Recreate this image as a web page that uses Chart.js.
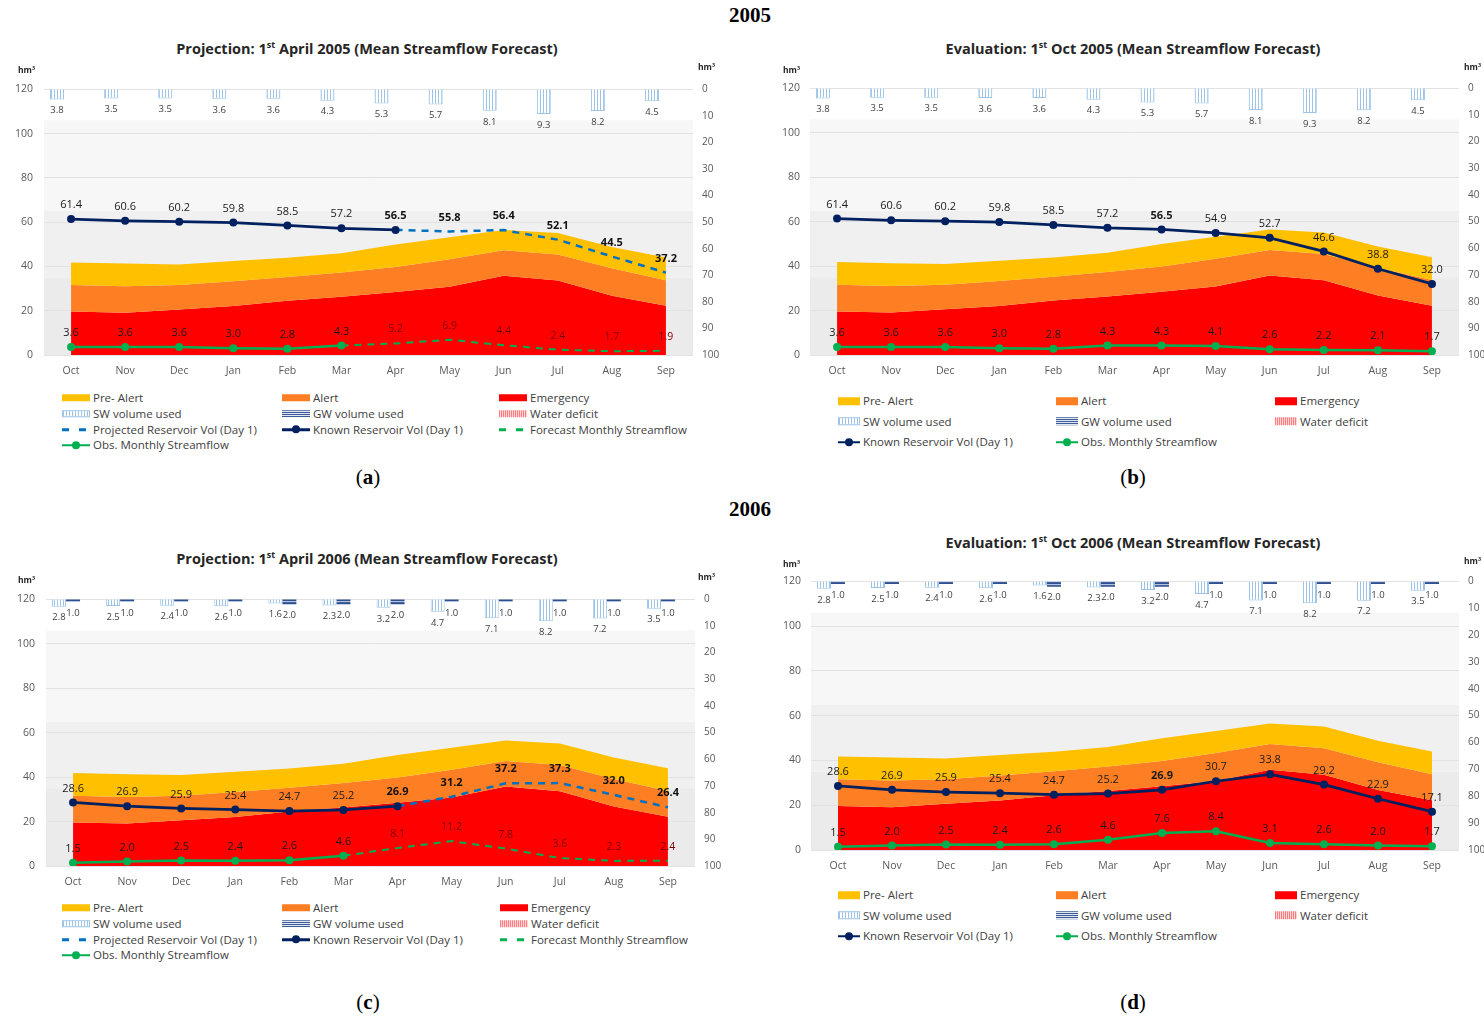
<!DOCTYPE html>
<html>
<head>
<meta charset="utf-8">
<script src="https://cdn.jsdelivr.net/npm/chart.js@4.4.1/dist/chart.umd.min.js"></script>
<style>
  body { margin: 0; background: #fff; width: 1484px; height: 1020px; position: relative; overflow: hidden;
         font-family: "Open Sans", sans-serif; }
  .abs { position: absolute; line-height: 1; white-space: nowrap; }
  .year { font-family: "Liberation Serif", serif; font-weight: bold; font-size: 21px; transform: translateX(-50%); }
  .title { font-weight: bold; font-size: 14.5px; color: #262626; transform: translateX(-50%); }
  .title sup { font-size: 9px; vertical-align: 6px; line-height: 0; }
  .hm { font-weight: bold; font-size: 8.5px; color: #262626; }
  .sub { font-family: "Liberation Serif", serif; font-size: 21px; transform: translateX(-50%); }
  .leg { font-size: 11.5px; color: #404040; display: flex; align-items: center; transform: translateY(-50%); }
  .sym { position: relative; margin-right: 3px; flex: none; }
  canvas { position: absolute; }
</style>
</head>
<body>
<script>
// reservoir projection / evaluation panels (Chart.js)
const FONT = '"Open Sans", sans-serif';

const months = ['Oct', 'Nov', 'Dec', 'Jan', 'Feb', 'Mar', 'Apr', 'May', 'Jun', 'Jul', 'Aug', 'Sep'];

// drought thresholds (hm3), same for every panel
const emergencyTop = [19.6, 19.1, 20.6, 22.1, 24.5, 26.3, 28.5, 30.8, 35.8, 33.6, 26.8, 22.2];
const alertTop     = [31.6, 31.0, 31.6, 33.3, 35.2, 37.3, 39.8, 43.3, 47.3, 45.4, 39.2, 33.8];
const preAlertTop  = [41.8, 41.3, 40.9, 42.4, 43.9, 46.0, 49.9, 53.2, 56.5, 55.1, 48.8, 44.0];
const noDeficit    = [0, 0, 0, 0, 0, 0, 0, 0, 0, 0, 0, 0];

// 2005
const sw2005 = [3.8, 3.5, 3.5, 3.6, 3.6, 4.3, 5.3, 5.7, 8.1, 9.3, 8.2, 4.5];
const gw2005 = [0, 0, 0, 0, 0, 0, 0, 0, 0, 0, 0, 0];
const knownA = [61.4, 60.6, 60.2, 59.8, 58.5, 57.2, 56.5, null, null, null, null, null];
const projectedA = [null, null, null, null, null, null, 56.5, 55.8, 56.4, 52.1, 44.5, 37.2];
const obsA = [3.6, 3.6, 3.6, 3.0, 2.8, 4.3, null, null, null, null, null, null];
const forecastA = [null, null, null, null, null, 4.3, 5.2, 6.9, 4.4, 2.4, 1.7, 1.9];
const knownB = [61.4, 60.6, 60.2, 59.8, 58.5, 57.2, 56.5, 54.9, 52.7, 46.6, 38.8, 32.0];
const obsB = [3.6, 3.6, 3.6, 3.0, 2.8, 4.3, 4.3, 4.1, 2.6, 2.2, 2.1, 1.7];

// 2006
const sw2006 = [2.8, 2.5, 2.4, 2.6, 1.6, 2.3, 3.2, 4.7, 7.1, 8.2, 7.2, 3.5];
const gw2006 = [1.0, 1.0, 1.0, 1.0, 2.0, 2.0, 2.0, 1.0, 1.0, 1.0, 1.0, 1.0];
const knownC = [28.6, 26.9, 25.9, 25.4, 24.7, 25.2, 26.9, null, null, null, null, null];
const projectedC = [null, null, null, null, null, null, 26.9, 31.2, 37.2, 37.3, 32.0, 26.4];
const obsC = [1.5, 2.0, 2.5, 2.4, 2.6, 4.6, null, null, null, null, null, null];
const forecastC = [null, null, null, null, null, 4.6, 8.1, 11.2, 7.8, 3.6, 2.3, 2.4];
const knownD = [28.6, 26.9, 25.9, 25.4, 24.7, 25.2, 26.9, 30.7, 33.8, 29.2, 22.9, 17.1];
const obsD = [1.5, 2.0, 2.5, 2.4, 2.6, 4.6, 7.6, 8.4, 3.1, 2.6, 2.0, 1.7];

// light grey background bands behind the plot [from, to, colour]
const bgBands = [[0, 35, '#ebebeb'], [35, 65, '#f0f0f0'], [65, 106, '#f7f7f7']];

function makePattern(w, h, draw) {
  const c = document.createElement('canvas');
  c.width = w; c.height = h;
  const g = c.getContext('2d');
  draw(g);
  return g.createPattern(c, 'repeat');
}
const swPattern = makePattern(3, 1, (g) => {
  g.fillStyle = '#fff'; g.fillRect(0, 0, 3, 1);
  g.fillStyle = '#9dc3e6'; g.fillRect(0, 0, 1, 1);
});
const gwPattern = makePattern(1, 3, (g) => {
  g.fillStyle = '#2f4f8f'; g.fillRect(0, 0, 1, 1);
  g.fillStyle = '#b4c4e0'; g.fillRect(0, 1, 1, 1);
  g.fillStyle = '#44609a'; g.fillRect(0, 2, 1, 1);
});
const defPattern = makePattern(2, 2, (g) => {
  g.fillStyle = '#ffd0d0'; g.fillRect(0, 0, 2, 2);
  g.fillStyle = '#ff7c80'; g.fillRect(0, 0, 1, 2);
});

const bandPlugin = {
  id: 'bands',
  beforeDraw(chart) {
    const { ctx, chartArea: a, scales: { y } } = chart;
    ctx.save();
    bgBands.forEach(([lo, hi, col]) => {
      const top = y.getPixelForValue(hi);
      const bot = y.getPixelForValue(lo);
      ctx.fillStyle = col;
      ctx.fillRect(a.left, top, a.right - a.left, bot - top);
    });
    ctx.restore();
  },
};

const labelPlugin = {
  id: 'valueLabels',
  afterDatasetsDraw(chart) {
    const ctx = chart.ctx;
    chart.data.datasets.forEach((ds, i) => {
      if (!ds.lbl) return;
      const meta = chart.getDatasetMeta(i);
      meta.data.forEach((el, j) => {
        const v = ds.data[j];
        if (v === null || v === 0) return;
        if ((ds.lbl.skip || []).includes(j)) return;
        const y = meta.type === 'bar' ? Math.max(el.y, el.base) + ds.lbl.dy : el.y + ds.lbl.dy;
        const bold = ds.lbl.bold || (ds.lbl.boldIdx || []).includes(j);
        ctx.save();
        ctx.font = (bold ? 'bold ' : '') + ds.lbl.size + 'px ' + FONT;
        ctx.fillStyle = ds.lbl.color;
        ctx.textAlign = 'center';
        ctx.textBaseline = 'middle';
        ctx.fillText(v.toFixed(1), el.x, y);
        ctx.restore();
      });
    });
  },
};

function makePanel(p) {
  const canvas = document.createElement('canvas');
  canvas.width = p.w; canvas.height = p.h;
  canvas.style.left = p.left + 'px';
  canvas.style.top = p.top + 'px';
  document.body.appendChild(canvas);

  const area = (label, data, color, fill, order) => ({
    type: 'line', label, data, yAxisID: 'y', backgroundColor: color,
    borderWidth: 0, pointRadius: 0, fill, order, tension: 0,
  });

  const datasets = [
    area('Emergency', emergencyTop, '#ff0000', 'origin', 12),
    area('Alert', alertTop, '#fd7e23', { target: 0 }, 11),
    area('Pre- Alert', preAlertTop, '#ffc000', { target: 1 }, 10),
    {
      type: 'bar', label: 'SW volume used', data: p.sw, yAxisID: 'y2',
      backgroundColor: swPattern, borderColor: '#9dc3e6', borderWidth: 1, barThickness: 14, order: 6,
      inflateAmount: 0,
      lbl: { size: 9.5, color: '#404040', dy: 11 },
    },
    {
      type: 'bar', label: 'GW volume used', data: p.gw, yAxisID: 'y2',
      backgroundColor: gwPattern, borderWidth: 0, barThickness: 14, order: 6, inflateAmount: 0,
      lbl: { size: 9.5, color: '#404040', dy: 11 },
    },
    {
      type: 'bar', label: 'Water deficit', data: noDeficit, yAxisID: 'y2',
      backgroundColor: defPattern, borderWidth: 0, barThickness: 14, order: 6, inflateAmount: 0,
    },
  ];

  if (p.projected) {
    datasets.push({
      type: 'line', label: 'Projected Reservoir Vol (Day 1)', data: p.projected, yAxisID: 'y',
      borderColor: '#0070c0', borderWidth: 2.5, borderDash: [7, 6], pointRadius: 0, fill: false, order: 3,
      lbl: { size: 11, color: '#111', dy: -14, bold: true },
    });
  }
  datasets.push({
    type: 'line', label: 'Known Reservoir Vol (Day 1)', data: p.known, yAxisID: 'y',
    borderColor: '#002060', backgroundColor: '#002060', borderWidth: 2.75,
    pointRadius: 4, pointBorderWidth: 0, fill: false, order: 1,
    lbl: { size: 11, color: '#1a1a1a', dy: -14, skip: p.knownSkip, boldIdx: p.knownBold },
  });
  if (p.forecast) {
    datasets.push({
      type: 'line', label: 'Forecast Monthly Streamflow', data: p.forecast, yAxisID: 'y',
      borderColor: '#00b050', borderWidth: 2, borderDash: [7, 6], pointRadius: 0, fill: false, order: 4,
      lbl: { size: 10.5, color: '#7a0000', dy: -14, skip: [5] },
    });
  }
  datasets.push({
    type: 'line', label: 'Obs. Monthly Streamflow', data: p.obs, yAxisID: 'y',
    borderColor: '#00b050', backgroundColor: '#00b050', borderWidth: 2.5,
    pointRadius: 4, pointBorderWidth: 0, fill: false, order: 2,
    lbl: { size: 11, color: '#1a1a1a', dy: -14 },
  });

  new Chart(canvas.getContext('2d'), {
    type: 'bar',
    data: { labels: months, datasets },
    plugins: [bandPlugin, labelPlugin],
    options: {
      responsive: false,
      animation: false,
      layout: { padding: { top: 0, left: 0, right: 0, bottom: 0 } },
      plugins: { legend: { display: false }, tooltip: { enabled: false }, title: { display: false } },
      scales: {
        x: {
          offset: true,
          grid: { display: false, drawTicks: false },
          border: { display: false },
          ticks: { color: '#595959', font: { size: 10.5, family: FONT }, padding: 10 },
          afterFit: (s) => { s.height = p.xh; },
        },
        y: {
          position: 'left', min: 0, max: 120,
          ticks: { stepSize: 20, color: '#595959', font: { size: 10.5, family: FONT }, padding: p.lpad },
          grid: { color: '#e2e2e2', drawTicks: false },
          border: { display: false },
          afterFit: (s) => { s.width = p.lw; },
        },
        y2: {
          position: 'right', min: 0, max: 100, reverse: true,
          ticks: { stepSize: 10, color: '#595959', font: { size: 10, family: FONT }, padding: p.rpad },
          grid: { display: false, drawTicks: false },
          border: { display: false },
          afterFit: (s) => { s.width = p.rw; },
        },
      },
    },
  });
}

function addText(cls, html, x, y) {
  const d = document.createElement('div');
  d.className = 'abs ' + cls;
  d.innerHTML = html;
  d.style.left = x + 'px';
  d.style.top = y + 'px';
  document.body.appendChild(d);
  return d;
}

function symbolHTML(kind, w, h) {
  const box = (bg, extra) => `<div class="sym" style="width:${w}px;height:${h}px;background:${bg};${extra || ''}"></div>`;
  switch (kind) {
    case 'pre': return box('#ffc000');
    case 'alert': return box('#fd7e23');
    case 'emerg': return box('#ff0000');
    case 'sw': return box('repeating-linear-gradient(90deg,#9dc3e6 0 1px,#fff 1px 3px)', 'box-sizing:border-box;border:1px solid #9dc3e6;');
    case 'gw': return box('repeating-linear-gradient(180deg,#3b5a96 0 1px,#dfe6f2 1px 2px)');
    case 'def': return box('repeating-linear-gradient(90deg,#ff7c80 0 1px,#ffd6d6 1px 2px)');
    case 'proj': return box('repeating-linear-gradient(90deg,#0070c0 0 7px,transparent 7px 17px)', 'height:2.5px;');
    case 'fore': return box('repeating-linear-gradient(90deg,#00b050 0 7px,transparent 7px 17px)', 'height:2.5px;');
    case 'known':
    case 'obs': {
      const c = kind === 'known' ? '#002060' : '#00b050';
      return `<div class="sym" style="width:${w}px;height:8px;">` +
        `<div style="position:absolute;left:0;top:3px;width:${w}px;height:2.5px;background:${c}"></div>` +
        `<div style="position:absolute;left:${w / 2 - 4}px;top:0;width:8px;height:8px;border-radius:50%;background:${c}"></div></div>`;
    }
  }
  return '';
}

const legendFull = [
  ['pre', 'Pre- Alert'], ['alert', 'Alert'], ['emerg', 'Emergency'],
  ['sw', 'SW volume used'], ['gw', 'GW volume used'], ['def', 'Water deficit'],
  ['proj', 'Projected Reservoir Vol (Day 1)'], ['known', 'Known Reservoir Vol (Day 1)'], ['fore', 'Forecast Monthly Streamflow'],
  ['obs', 'Obs. Monthly Streamflow'],
];
const legendEval = [
  ['pre', 'Pre- Alert'], ['alert', 'Alert'], ['emerg', 'Emergency'],
  ['sw', 'SW volume used'], ['gw', 'GW volume used'], ['def', 'Water deficit'],
  ['known', 'Known Reservoir Vol (Day 1)'], ['obs', 'Obs. Monthly Streamflow'],
];

function addLegend(items, cols, rows, sw, sh) {
  items.forEach(([kind, text], i) => {
    addText('leg', symbolHTML(kind, sw, sh) + '<span>' + text + '</span>', cols[i % 3], rows[Math.floor(i / 3)]);
  });
}

// headings
addText('year', '2005', 750, 5);
addText('year', '2006', 750, 499);

const panels = [
  { left: 0, top: 72, w: 740, h: 313, lw: 44, rw: 47, xh: 30, lpad: 11, rpad: 9,
    sw: sw2005, gw: gw2005, known: knownA, projected: projectedA, obs: obsA, forecast: forecastA,
    knownSkip: [6], knownBold: [],
    title: 'Projection: 1<sup>st</sup> April 2005 (Mean Streamflow Forecast)', tx: 367, ty: 42,
    hmL: [18, 66], hmR: [698, 63], legend: legendFull, cols: [62, 282, 499], rows: [398, 414, 429.5, 445], sw_: 28, sh_: 7,
    sub: '(<b>a</b>)', sx: 368, sy: 467 },
  { left: 760, top: 72, w: 724, h: 313, lw: 50, rw: 25, xh: 30, lpad: 10, rpad: 9,
    sw: sw2005, gw: gw2005, known: knownB, obs: obsB,
    knownSkip: [], knownBold: [6],
    title: 'Evaluation: 1<sup>st</sup> Oct 2005 (Mean Streamflow Forecast)', tx: 1133, ty: 42,
    hmL: [783, 66], hmR: [1464, 63], legend: legendEval, cols: [838, 1056, 1275], rows: [401, 421.5, 442], sw_: 22, sh_: 8,
    sub: '(<b>b</b>)', sx: 1133, sy: 467 },
  { left: 0, top: 582, w: 740, h: 313, lw: 46, rw: 45, xh: 29, lpad: 11, rpad: 9,
    sw: sw2006, gw: gw2006, known: knownC, projected: projectedC, obs: obsC, forecast: forecastC,
    knownSkip: [6], knownBold: [],
    title: 'Projection: 1<sup>st</sup> April 2006 (Mean Streamflow Forecast)', tx: 367, ty: 552,
    hmL: [18, 576], hmR: [698, 573], legend: legendFull, cols: [62, 282, 500], rows: [908, 924, 939.5, 955], sw_: 28, sh_: 7,
    sub: '(<b>c</b>)', sx: 368, sy: 992 },
  { left: 760, top: 565, w: 724, h: 313, lw: 51, rw: 25, xh: 28, lpad: 10, rpad: 9,
    sw: sw2006, gw: gw2006, known: knownD, obs: obsD,
    knownSkip: [], knownBold: [6],
    title: 'Evaluation: 1<sup>st</sup> Oct 2006 (Mean Streamflow Forecast)', tx: 1133, ty: 536,
    hmL: [783, 560], hmR: [1464, 557], legend: legendEval, cols: [838, 1056, 1275], rows: [895, 915.5, 936], sw_: 22, sh_: 8,
    sub: '(<b>d</b>)', sx: 1133, sy: 992 },
];

panels.forEach((p) => {
  makePanel(p);
  addText('title', p.title, p.tx, p.ty);
  addText('hm', 'hm³', p.hmL[0], p.hmL[1]);
  addText('hm', 'hm³', p.hmR[0], p.hmR[1]);
  addLegend(p.legend, p.cols, p.rows, p.sw_, p.sh_);
  addText('sub', p.sub, p.sx, p.sy);
});
</script>
</body>
</html>
